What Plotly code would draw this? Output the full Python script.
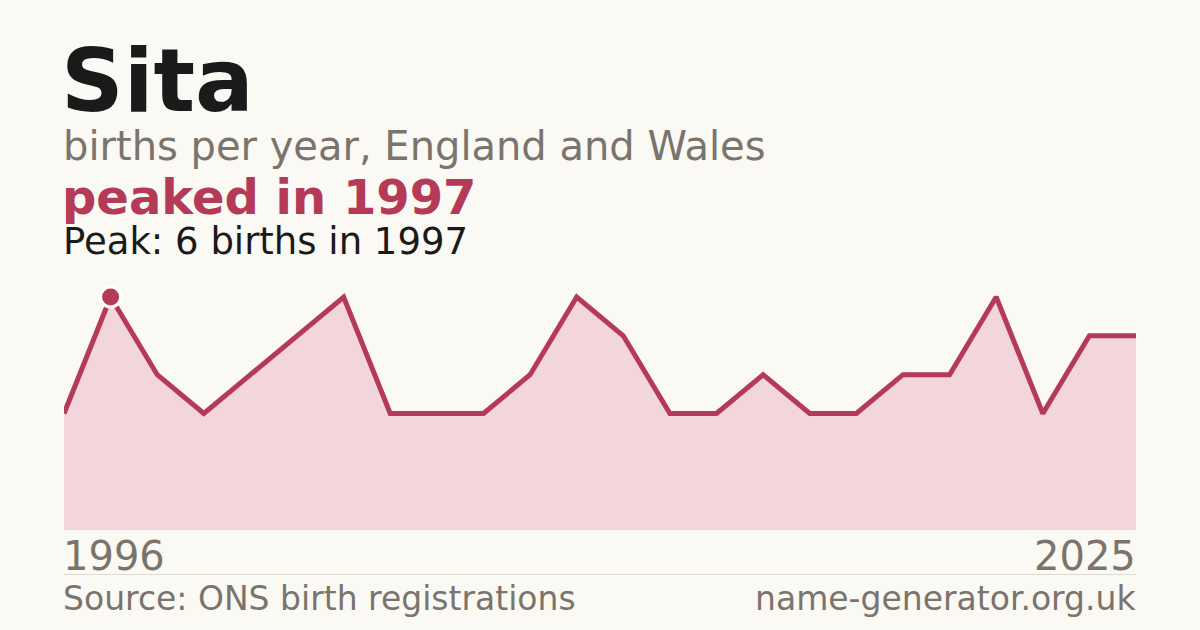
import plotly.graph_objects as go

# ---- data ----
point_index = list(range(24))
births = [3, 6, 4, 3, 4, 5, 6, 3, 3, 3, 4, 6, 5, 3, 3, 4, 3, 3, 4, 4, 6, 3, 5, 5]
first_year_label = "1996"
last_year_label = "2025"
peak_value = 6
peak_index = 1

W, H = 1200, 630
BG = "#faf9f4"
ACCENT = "#b43a58"
FILL = "#f2d6dc"
GREY = "#7a746c"
DARK = "#1a1a1a"
FONT = "DejaVu Sans"

# plot area in pixels
L, R = 64, 1136
TOP, BOT = 280, 530
y_max = peak_value * (BOT - TOP) / (BOT - 297)


def px(x):
    return (x - L) / (R - L)


def py(y):
    return (BOT - y) / (BOT - TOP)


fig = go.Figure()
fig.add_trace(go.Scatter(
    x=point_index, y=births, mode="lines",
    line=dict(color=ACCENT, width=5, shape="linear"),
    fill="tozeroy", fillcolor=FILL, hoverinfo="skip",
))
fig.add_trace(go.Scatter(
    x=[point_index[peak_index]], y=[births[peak_index]], mode="markers",
    marker=dict(color=ACCENT, size=20, line=dict(color="white", width=3)),
    hoverinfo="skip", cliponaxis=False,
))

annotations = [
    dict(text="<b>Sita</b>", x=px(L - 4), y=py(114), font=dict(size=87, color=DARK)),
    dict(text="births per year, England and Wales", x=px(L - 2), y=py(161), font=dict(size=40, color=GREY)),
    dict(text="<b>peaked in 1997</b>", x=px(L - 3), y=py(215), font=dict(size=48, color=ACCENT)),
    dict(text="Peak: 6 births in 1997", x=px(L - 2), y=py(256), font=dict(size=37, color=DARK)),
    dict(text=first_year_label, x=px(L - 2), y=py(571), font=dict(size=40, color=GREY)),
    dict(text="Source: ONS birth registrations", x=px(L - 2), y=py(612), font=dict(size=33, color=GREY)),
]
right_annotations = [
    dict(text=last_year_label, x=px(R + 1), y=py(571), font=dict(size=40, color=GREY)),
    dict(text="name-generator.org.uk", x=px(R + 1), y=py(612), font=dict(size=33, color=GREY)),
]
ann = []
for a in annotations:
    a.update(xref="paper", yref="paper", xanchor="left", yanchor="bottom",
             showarrow=False, borderpad=0, yshift=-0.22 * a["font"]["size"])
    a["font"]["family"] = FONT
    ann.append(a)
for a in right_annotations:
    a.update(xref="paper", yref="paper", xanchor="right", yanchor="bottom",
             showarrow=False, borderpad=0, yshift=-0.22 * a["font"]["size"])
    a["font"]["family"] = FONT
    ann.append(a)

fig.update_layout(
    width=W, height=H,
    paper_bgcolor=BG, plot_bgcolor=BG,
    margin=dict(l=L, r=W - R, t=TOP, b=H - BOT, pad=0),
    showlegend=False,
    xaxis=dict(range=[point_index[0], point_index[-1]], visible=False, fixedrange=True),
    yaxis=dict(range=[0, y_max], visible=False, fixedrange=True),
    annotations=ann,
    shapes=[dict(type="line", xref="paper", yref="paper", x0=0, x1=1,
                 y0=py(574.5), y1=py(574.5), line=dict(color="#dedbd3", width=1))],
    font=dict(family=FONT),
)

fig.write_html(
    "out.html",
    config={"displayModeBar": False},
    post_script="document.body.style.margin='0';document.body.style.background='%s';" % BG,
)
